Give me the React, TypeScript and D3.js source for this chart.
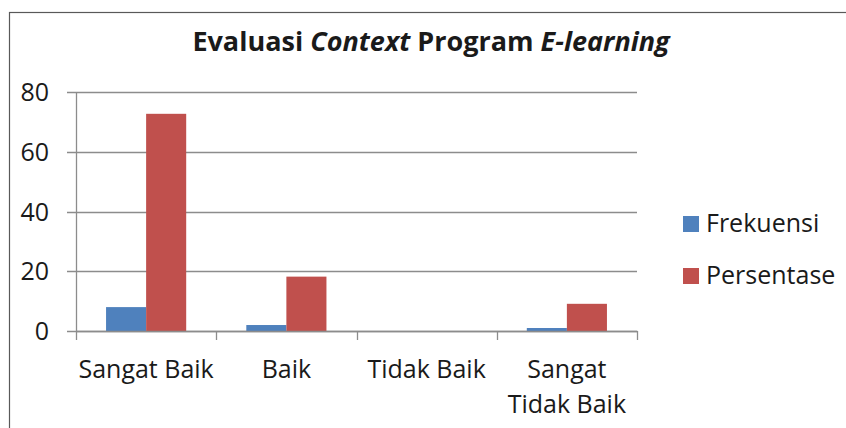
import React, { useEffect, useRef } from 'react'
import * as d3 from 'd3'

const categories = ['Sangat Baik', 'Baik', 'Tidak Baik', 'Sangat Tidak Baik']
const frekuensi = [8, 2, 0, 1]
const persentase = [72.7, 18.2, 0, 9.1]
const seriesNames = ['Frekuensi', 'Persentase']
const yTicks = [0, 20, 40, 60, 80]

const W = 846
const H = 428
const font = '"Open Sans", Lato, sans-serif'
const labelSize = 25

function Chart() {
    const ref = useRef<SVGSVGElement>(null)

    useEffect(() => {
        const svg = d3.select(ref.current)
        svg.selectAll('*').remove()

        const colors = d3.scaleOrdinal<string, string>()
            .domain(seriesNames)
            .range(['#4F81BD', '#C0504D'])

        // outer chart frame, runs off the right and bottom
        svg.append('rect')
            .attr('x', 9.5).attr('y', 12.5)
            .attr('width', 900).attr('height', 500)
            .attr('fill', 'white')
            .attr('stroke', '#595959')
            .attr('stroke-width', 1.2)

        const margin = { left: 76, right: 637, top: 92, bottom: 331 }

        const x = d3.scaleBand()
            .domain(categories)
            .range([margin.left, margin.right])
            .paddingInner(0)

        const inner = d3.scaleBand()
            .domain(seriesNames)
            .range([0, x.bandwidth()])
            .paddingInner(0)
            .paddingOuter(0.75)

        const y = d3.scaleLinear()
            .domain([0, 80])
            .range([margin.bottom, margin.top])

        // grid
        svg.append('g')
            .selectAll('line')
            .data(yTicks)
            .join('line')
            .attr('x1', margin.left - 9)
            .attr('x2', margin.right)
            .attr('y1', d => Math.round(y(d)) + 0.5)
            .attr('y2', d => Math.round(y(d)) + 0.5)
            .attr('stroke', '#8c8c8c')
            .attr('stroke-width', 1.3)

        // y axis line
        svg.append('line')
            .attr('x1', margin.left + 0.5).attr('x2', margin.left + 0.5)
            .attr('y1', margin.top).attr('y2', margin.bottom)
            .attr('stroke', '#8c8c8c').attr('stroke-width', 1.3)

        // y labels
        svg.append('g')
            .selectAll('text')
            .data(yTicks)
            .join('text')
            .attr('x', 49)
            .attr('y', d => y(d) + 9)
            .attr('text-anchor', 'end')
            .attr('font-family', font)
            .attr('font-size', labelSize)
            .attr('fill', '#1a1a1a')
            .text(d => d)

        // bars
        const data = categories.map((c, i) => ({ cat: c, values: [frekuensi[i], persentase[i]] }))
        svg.append('g')
            .selectAll('g')
            .data(data)
            .join('g')
            .attr('transform', d => `translate(${x(d.cat)},0)`)
            .selectAll('rect')
            .data(d => d.values.map((v, k) => ({ key: seriesNames[k], v })))
            .join('rect')
            .attr('x', d => inner(d.key) as number)
            .attr('width', inner.bandwidth())
            .attr('y', d => y(d.v))
            .attr('height', d => y(0) - y(d.v))
            .attr('fill', d => colors(d.key))

        // x axis line + ticks
        svg.append('line')
            .attr('x1', margin.left).attr('x2', margin.right + 0.5)
            .attr('y1', margin.bottom + 0.5).attr('y2', margin.bottom + 0.5)
            .attr('stroke', '#8c8c8c').attr('stroke-width', 1.3)

        const tickXs = categories.map(c => x(c) as number).concat([margin.right])
        svg.append('g')
            .selectAll('line')
            .data(tickXs)
            .join('line')
            .attr('x1', d => Math.round(d) + 0.5)
            .attr('x2', d => Math.round(d) + 0.5)
            .attr('y1', margin.bottom)
            .attr('y2', margin.bottom + 9)
            .attr('stroke', '#8c8c8c').attr('stroke-width', 1.3)

        // category labels (wrap the last one)
        const lines = (c: string) => c === 'Sangat Tidak Baik' ? ['Sangat', 'Tidak Baik'] : [c]
        svg.append('g')
            .selectAll('text')
            .data(categories)
            .join('text')
            .attr('x', d => (x(d) as number) + x.bandwidth() / 2)
            .attr('y', 378)
            .attr('text-anchor', 'middle')
            .attr('font-family', font)
            .attr('font-size', labelSize)
            .attr('fill', '#1a1a1a')
            .each(function (d) {
                const t = d3.select(this)
                lines(d).forEach((l, i) => {
                    t.append('tspan')
                        .attr('x', (x(d) as number) + x.bandwidth() / 2)
                        .attr('dy', i === 0 ? 0 : 35)
                        .text(l)
                })
            })

        // title
        const title = svg.append('text')
            .attr('x', 431)
            .attr('y', 51)
            .attr('text-anchor', 'middle')
            .attr('font-family', font)
            .attr('font-size', 27)
            .attr('font-weight', 'bold')
            .attr('fill', '#1a1a1a')
        title.append('tspan').text('Evaluasi ')
        title.append('tspan').attr('font-style', 'italic').text('Context')
        title.append('tspan').text(' Program ')
        title.append('tspan').attr('font-style', 'italic').text('E-learning')

        // legend
        const legend = svg.append('g')
            .selectAll('g')
            .data(seriesNames)
            .join('g')
            .attr('transform', (d, i) => `translate(683,${216 + i * 52})`)
        legend.append('rect')
            .attr('width', 16).attr('height', 16)
            .attr('fill', d => colors(d))
        legend.append('text')
            .attr('x', 23)
            .attr('y', 16)
            .attr('font-family', font)
            .attr('font-size', labelSize)
            .attr('fill', '#1a1a1a')
            .text(d => d)
    }, [])

    return <svg ref={ref} width={W} height={H} style={{ position: 'absolute', left: 0, top: 0 }} />
}

export default function App() {
    return <Chart />
}
